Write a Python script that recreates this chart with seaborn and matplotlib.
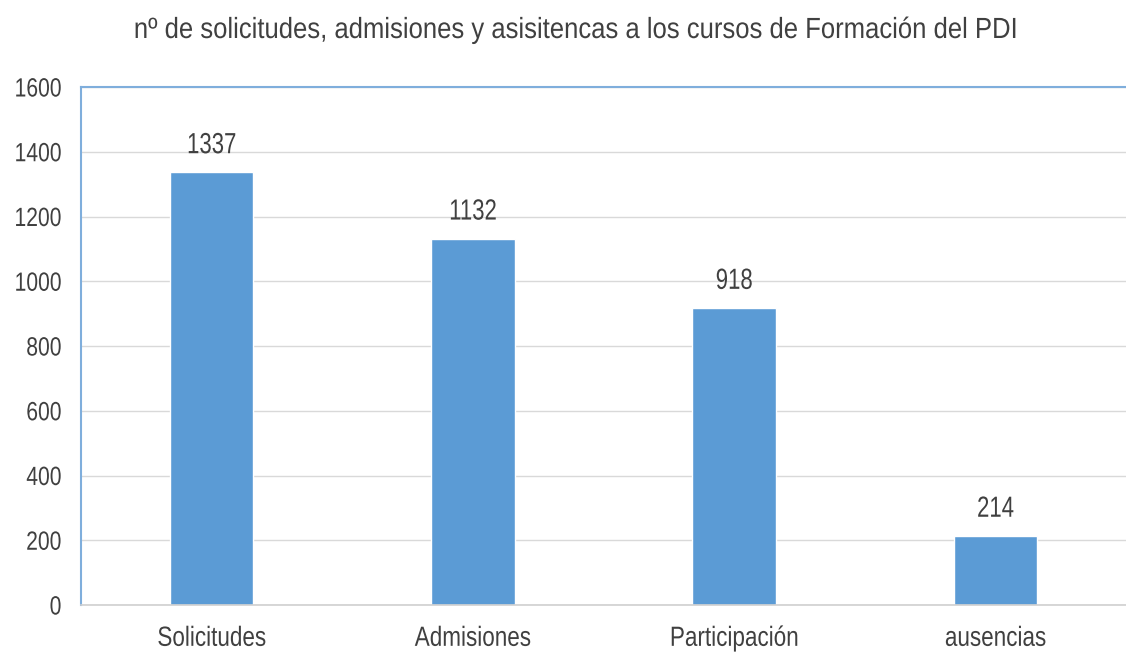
import matplotlib
matplotlib.use("Agg")
import matplotlib.pyplot as plt
import seaborn as sns
import pandas as pd
from matplotlib.patheffects import AbstractPathEffect
from matplotlib.transforms import Affine2D

categories = ["Solicitudes", "Admisiones", "Participación", "ausencias"]
values = [1337, 1132, 918, 214]
yticks = [0, 200, 400, 600, 800, 1000, 1200, 1400, 1600]
title = "nº de solicitudes, admisiones y asisitencas a los cursos de Formación del PDI"


class HScale(AbstractPathEffect):
    """Squeeze text horizontally around an anchor (narrow look)."""
    def __init__(self, sx, anchor="center"):
        super().__init__()
        self.sx = sx
        self.anchor = anchor

    def draw_path(self, renderer, gc, tpath, affine, rgbFace=None):
        ext = tpath.get_extents()
        if self.anchor == "center":
            x0 = (ext.x0 + ext.x1) / 2
        elif self.anchor == "right":
            x0 = ext.x1
        else:
            x0 = ext.x0
        t = Affine2D().translate(-x0, 0).scale(self.sx, 1).translate(x0, 0) + affine
        renderer.draw_path(gc, tpath, t, rgbFace)


sns.set_theme(style="white")
plt.rcParams['font.family'] = ['Liberation Sans', 'DejaVu Sans']

df = pd.DataFrame({"cat": categories, "val": values})

fig = plt.figure(figsize=(11.26, 6.57), dpi=100)
ax = fig.add_axes([81/1126, 1-605/657, 1-81/1126, (605-87)/657])

sns.barplot(data=df, x="cat", y="val", color="#5B9BD5", saturation=1, width=0.32, ax=ax)

ax.set_ylim(0, 1600)
ax.set_xlim(-0.5, 3.5)
ax.set_yticks(yticks)
ax.set_yticklabels([str(t) for t in yticks])
ax.set_xticks(range(len(categories)))
ax.set_xticklabels(categories)
ax.yaxis.grid(True, color="#D9D9D9", linewidth=1)
ax.set_axisbelow(True)
ax.set_xlabel("")
ax.set_ylabel("")
ax.tick_params(axis="both", length=0, labelcolor="#404040")
ax.tick_params(axis="y", pad=14, labelsize=19)
ax.tick_params(axis="x", pad=15, labelsize=20)

for lbl in ax.get_yticklabels():
    lbl.set_path_effects([HScale(0.80, "right")])
for lbl in ax.get_xticklabels():
    lbl.set_path_effects([HScale(0.81, "center")])

for s in ["left", "top"]:
    ax.spines[s].set_color("#7FAEDC")
    ax.spines[s].set_linewidth(1.5)
ax.spines["right"].set_visible(False)
ax.spines["bottom"].set_color("#D0D0D0")
ax.spines["bottom"].set_linewidth(1.2)

for i, v in enumerate(values):
    ax.text(i, v + 40, str(v), ha="center", va="bottom", fontsize=21, color="#404040",
            path_effects=[HScale(0.76, "center")])

fig.text(575.5/1126, 1-30/657, title, ha="center", va="center", fontsize=21, color="#404040",
         path_effects=[HScale(0.88, "center")])

fig.savefig("out.png", dpi=100)
